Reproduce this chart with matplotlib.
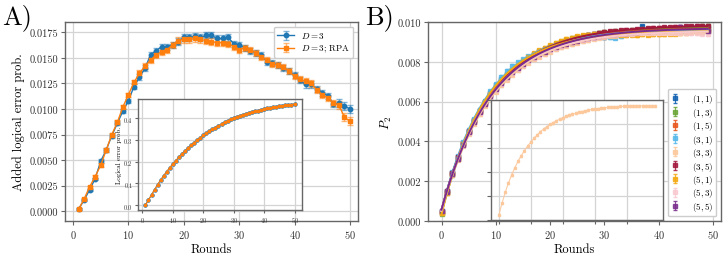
import numpy as np
import matplotlib
matplotlib.use("Agg")
import matplotlib.pyplot as plt

plt.rcParams.update({
    "font.family": "serif",
    "font.serif": ["cmr10", "DejaVu Serif"],
    "mathtext.fontset": "cm",
    "axes.formatter.use_mathtext": True,
    "axes.unicode_minus": False,
})

# ---------------- Panel A data ----------------
rounds_a = list(range(1, 51))
added_d3 = [0.0002, 0.0011, 0.0021, 0.0032, 0.0049, 0.0060, 0.0074, 0.0086, 0.0098, 0.0108,
            0.0122, 0.0131, 0.0140, 0.0153, 0.0157, 0.0161, 0.0161, 0.0163, 0.0166, 0.0170,
            0.0170, 0.0171, 0.0170, 0.0172, 0.0172, 0.0169, 0.0169, 0.0170, 0.0164, 0.0163,
            0.0160, 0.0157, 0.0155, 0.0153, 0.0146, 0.0145, 0.0143, 0.0140, 0.0137, 0.0133,
            0.0128, 0.0124, 0.0124, 0.0120, 0.0116, 0.0113, 0.0105, 0.0106, 0.0103, 0.0100]
added_rpa = [0.0002, 0.0012, 0.0024, 0.0034, 0.0045, 0.0060, 0.0075, 0.0087, 0.0102, 0.0114,
             0.0126, 0.0135, 0.0142, 0.0148, 0.0153, 0.0156, 0.0158, 0.0163, 0.0167, 0.0168,
             0.0168, 0.0169, 0.0168, 0.0167, 0.0166, 0.0165, 0.0165, 0.0164, 0.0161, 0.0158,
             0.0160, 0.0158, 0.0155, 0.0151, 0.0148, 0.0144, 0.0143, 0.0141, 0.0137, 0.0132,
             0.0129, 0.0127, 0.0125, 0.0119, 0.0114, 0.0111, 0.0106, 0.0104, 0.0092, 0.0088]
err_d3 = [0.0001, 0.0001, 0.0001, 0.0001, 0.0002, 0.0002, 0.0002, 0.0002, 0.0002, 0.0002,
          0.0002, 0.0003, 0.0003, 0.0003, 0.0003, 0.0003, 0.0003, 0.0003, 0.0003, 0.0003,
          0.0003, 0.0003, 0.0003, 0.0003, 0.0003, 0.0003, 0.0003, 0.0003, 0.0003, 0.0003,
          0.0003, 0.0003, 0.0003, 0.0003, 0.0003, 0.0003, 0.0003, 0.0003, 0.0003, 0.0003,
          0.0003, 0.0003, 0.0003, 0.0003, 0.0003, 0.0003, 0.0003, 0.0004, 0.0004, 0.0004]
err_rpa = [0.0001, 0.0001, 0.0001, 0.0001, 0.0002, 0.0002, 0.0002, 0.0002, 0.0002, 0.0002,
           0.0002, 0.0003, 0.0003, 0.0003, 0.0003, 0.0003, 0.0003, 0.0003, 0.0003, 0.0003,
           0.0003, 0.0003, 0.0003, 0.0003, 0.0003, 0.0003, 0.0003, 0.0003, 0.0003, 0.0003,
           0.0003, 0.0003, 0.0003, 0.0003, 0.0003, 0.0003, 0.0003, 0.0003, 0.0003, 0.0003,
           0.0003, 0.0003, 0.0003, 0.0003, 0.0003, 0.0003, 0.0003, 0.0004, 0.0004, 0.0004]
logical_d3 = [0.000, 0.023, 0.047, 0.071, 0.094, 0.115, 0.135, 0.154, 0.172, 0.189,
              0.205, 0.220, 0.235, 0.249, 0.262, 0.275, 0.287, 0.299, 0.310, 0.321,
              0.331, 0.340, 0.349, 0.357, 0.365, 0.373, 0.381, 0.388, 0.395, 0.401,
              0.406, 0.411, 0.416, 0.420, 0.424, 0.428, 0.432, 0.435, 0.439, 0.442,
              0.445, 0.448, 0.450, 0.453, 0.455, 0.457, 0.459, 0.461, 0.463, 0.465]
logical_rpa = [0.000, 0.023, 0.047, 0.071, 0.094, 0.115, 0.135, 0.154, 0.172, 0.189,
               0.205, 0.220, 0.235, 0.249, 0.262, 0.275, 0.287, 0.299, 0.310, 0.321,
               0.331, 0.340, 0.349, 0.357, 0.365, 0.373, 0.381, 0.388, 0.395, 0.401,
               0.406, 0.411, 0.416, 0.420, 0.424, 0.428, 0.432, 0.435, 0.439, 0.442,
               0.445, 0.448, 0.450, 0.453, 0.455, 0.457, 0.459, 0.461, 0.463, 0.465]
label_d3 = r"$D = 3$"
label_rpa = r"$D = 3$; RPA"

# ---------------- Panel B data ----------------
rounds_b = list(range(0, 50))
labels_b = [r"$(1,1)$", r"$(1,3)$", r"$(1,5)$", r"$(3,1)$", r"$(3,3)$",
            r"$(3,5)$", r"$(5,1)$", r"$(5,3)$", r"$(5,5)$"]
colors_b = ["#1060b0", "#6aa535", "#e8561d", "#55b8ea", "#fcc89b",
            "#a3173d", "#f4a90f", "#f8c9cf", "#7a2c8c"]
p2_11 = [0.00048,0.00150,0.00240,0.00322,0.00392,0.00455,0.00508,0.00556,0.00600,0.00645,0.00682,0.00712,0.00738,0.00760,0.00780,0.00798,0.00815,0.00832,0.00846,0.00858,0.00870,0.00880,0.00890,0.00898,0.00906,0.00912,0.00918,0.00922,0.00926,0.00930,0.00925,0.00928,0.00930,0.00935,0.00938,0.00942,0.00945,0.00978,0.00950,0.00948,0.00952,0.00955,0.00950,0.00953,0.00955,0.00952,0.00956,0.00954,0.00955,0.00953]
p2_13 = [0.00035,0.00140,0.00232,0.00312,0.00385,0.00446,0.00502,0.00550,0.00594,0.00633,0.00668,0.00700,0.00728,0.00754,0.00778,0.00800,0.00820,0.00838,0.00853,0.00866,0.00879,0.00890,0.00900,0.00910,0.00918,0.00925,0.00932,0.00936,0.00940,0.00945,0.00948,0.00950,0.00953,0.00955,0.00957,0.00959,0.00961,0.00963,0.00964,0.00966,0.00967,0.00968,0.00970,0.00971,0.00972,0.00974,0.00975,0.00976,0.00978,0.00980]
p2_15 = [0.00046,0.00148,0.00240,0.00320,0.00390,0.00452,0.00506,0.00554,0.00598,0.00638,0.00672,0.00704,0.00732,0.00758,0.00781,0.00801,0.00820,0.00836,0.00851,0.00864,0.00876,0.00887,0.00897,0.00906,0.00913,0.00920,0.00926,0.00931,0.00935,0.00939,0.00942,0.00945,0.00948,0.00950,0.00952,0.00954,0.00956,0.00957,0.00958,0.00959,0.00960,0.00961,0.00962,0.00963,0.00964,0.00964,0.00965,0.00965,0.00966,0.00966]
p2_31 = [0.00050,0.00152,0.00245,0.00328,0.00395,0.00460,0.00512,0.00560,0.00605,0.00652,0.00688,0.00725,0.00755,0.00780,0.00798,0.00812,0.00828,0.00842,0.00856,0.00866,0.00876,0.00886,0.00894,0.00902,0.00908,0.00914,0.00920,0.00926,0.00930,0.00932,0.00928,0.00925,0.00922,0.00930,0.00938,0.00944,0.00948,0.00952,0.00955,0.00958,0.00960,0.00962,0.00963,0.00964,0.00965,0.00966,0.00967,0.00967,0.00968,0.00968]
p2_33 = [0.00042,0.00140,0.00230,0.00308,0.00376,0.00436,0.00490,0.00536,0.00578,0.00616,0.00650,0.00682,0.00710,0.00736,0.00758,0.00778,0.00796,0.00812,0.00826,0.00840,0.00852,0.00863,0.00873,0.00882,0.00890,0.00897,0.00904,0.00910,0.00916,0.00921,0.00925,0.00929,0.00932,0.00935,0.00938,0.00940,0.00942,0.00944,0.00946,0.00947,0.00948,0.00949,0.00950,0.00950,0.00951,0.00951,0.00952,0.00950,0.00951,0.00950]
p2_35 = [0.00045,0.00150,0.00242,0.00320,0.00388,0.00450,0.00505,0.00552,0.00596,0.00634,0.00668,0.00700,0.00728,0.00754,0.00776,0.00797,0.00816,0.00834,0.00850,0.00864,0.00877,0.00889,0.00900,0.00909,0.00917,0.00924,0.00930,0.00936,0.00941,0.00946,0.00950,0.00953,0.00956,0.00958,0.00960,0.00962,0.00964,0.00966,0.00968,0.00970,0.00971,0.00973,0.00974,0.00975,0.00977,0.00978,0.00979,0.00980,0.00981,0.00982]
p2_51 = [0.00042,0.00142,0.00234,0.00314,0.00386,0.00448,0.00504,0.00552,0.00597,0.00638,0.00674,0.00706,0.00734,0.00760,0.00784,0.00806,0.00826,0.00843,0.00858,0.00872,0.00884,0.00896,0.00906,0.00915,0.00922,0.00928,0.00933,0.00936,0.00938,0.00936,0.00934,0.00935,0.00933,0.00936,0.00935,0.00937,0.00934,0.00938,0.00936,0.00939,0.00938,0.00940,0.00942,0.00941,0.00944,0.00946,0.00948,0.00950,0.00952,0.00955]
p2_53 = [0.00050,0.00146,0.00236,0.00314,0.00382,0.00442,0.00496,0.00544,0.00586,0.00625,0.00660,0.00691,0.00719,0.00744,0.00766,0.00786,0.00804,0.00820,0.00835,0.00848,0.00860,0.00871,0.00881,0.00890,0.00898,0.00905,0.00911,0.00917,0.00922,0.00926,0.00930,0.00933,0.00936,0.00938,0.00940,0.00942,0.00943,0.00944,0.00945,0.00946,0.00946,0.00947,0.00946,0.00945,0.00946,0.00945,0.00944,0.00943,0.00942,0.00940]
p2_55 = [0.00048,0.00148,0.00236,0.00314,0.00384,0.00446,0.00500,0.00548,0.00590,0.00628,0.00662,0.00694,0.00722,0.00748,0.00770,0.00790,0.00808,0.00824,0.00838,0.00851,0.00863,0.00874,0.00884,0.00892,0.00900,0.00907,0.00914,0.00920,0.00925,0.00930,0.00934,0.00938,0.00941,0.00944,0.00947,0.00950,0.00952,0.00954,0.00956,0.00958,0.00960,0.00962,0.00964,0.00966,0.00975,0.00968,0.00970,0.00972,0.00968,0.00955]
p2_err = [0.00004,0.00005,0.00005,0.00006,0.00006,0.00006,0.00007,0.00007,0.00007,0.00007,
          0.00008,0.00008,0.00008,0.00008,0.00008,0.00008,0.00008,0.00008,0.00008,0.00008,
          0.00008,0.00008,0.00008,0.00008,0.00008,0.00008,0.00008,0.00008,0.00008,0.00008,
          0.00008,0.00008,0.00008,0.00008,0.00008,0.00008,0.00008,0.00008,0.00008,0.00008,
          0.00008,0.00008,0.00008,0.00008,0.00008,0.00008,0.00008,0.00008,0.00008,0.00008]
series_b = [p2_11, p2_13, p2_15, p2_31, p2_33, p2_35, p2_51, p2_53, p2_55]

C_BLUE = "#1f77b4"
C_ORANGE = "#ff7f0e"
GRID = "#d4d4d4"
SPINE = "#666666"


def style_axes(ax, lab=7.5):
    ax.grid(True, color=GRID, lw=0.9)
    ax.set_axisbelow(True)
    for s in ax.spines.values():
        s.set_color(SPINE)
        s.set_linewidth(1.0)
    ax.tick_params(direction="out", length=3, width=0.8, color=SPINE, pad=2,
                   labelsize=lab, labelcolor="#333333")


def sat_fit(x, y):
    x = np.asarray(x, float)
    y = np.asarray(y, float)
    best = None
    for tau in np.linspace(3, 30, 541):
        e = np.exp(-x / tau)
        A = np.vstack([np.ones_like(x), -e]).T
        coef = np.linalg.lstsq(A, y, rcond=None)[0]
        r = np.sum((A @ coef - y) ** 2)
        if best is None or r < best[0]:
            best = (r, tau, coef)
    _, tau, coef = best
    xf = np.linspace(x.min(), x.max(), 200)
    return xf, coef[0] - coef[1] * np.exp(-xf / tau)


fig = plt.figure(figsize=(7.27, 2.55), dpi=100)

# ---------------- Panel A ----------------
axA = fig.add_axes([0.0894, 0.1294, 0.403, 0.780])
style_axes(axA)
axA.errorbar(rounds_a, added_d3, yerr=err_d3, color=C_BLUE, marker="o", ms=3.2,
             lw=1.0, elinewidth=1.0, capsize=2, ecolor=(0.12, 0.47, 0.71, 0.55),
             label=label_d3, zorder=3)
axA.errorbar(rounds_a, added_rpa, yerr=err_rpa, color=C_ORANGE, marker="s", ms=3.2,
             lw=1.0, elinewidth=1.0, capsize=2, ecolor=(1.0, 0.5, 0.05, 0.55),
             label=label_rpa, zorder=3)
axA.set_xlim(-1.45, 51.45)
axA.set_ylim(-0.00095, 0.0185)
axA.set_xticks([0, 10, 20, 30, 40, 50])
axA.set_yticks([0.0, 0.0025, 0.005, 0.0075, 0.01, 0.0125, 0.015, 0.0175])
axA.set_yticklabels(["0.0000", "0.0025", "0.0050", "0.0075", "0.0100",
                     "0.0125", "0.0150", "0.0175"])
axA.set_xlabel("Rounds", fontsize=9, labelpad=2)
axA.set_ylabel("Added logical error prob.", fontsize=9, labelpad=3)
axA.legend(loc="upper right", fontsize=6.5, framealpha=1, edgecolor="#cccccc",
           handlelength=1.8, borderpad=0.4, labelspacing=0.3)

axAi = fig.add_axes([0.1898, 0.1725, 0.2256, 0.435])
style_axes(axAi, lab=4.5)
axAi.tick_params(length=2, pad=1.5)
axAi.errorbar(rounds_a, logical_d3, yerr=[0.003] * 50, color=C_BLUE, marker="o", ms=2.2,
              lw=0.8, elinewidth=0.6, capsize=1, ecolor=(0.12, 0.47, 0.71, 0.5))
axAi.errorbar(rounds_a, logical_rpa, yerr=[0.003] * 50, color=C_ORANGE, marker="s", ms=1.8,
              lw=0.8, elinewidth=0.6, capsize=1, ecolor=(1.0, 0.5, 0.05, 0.5))
axAi.set_xlim(-1.45, 52.45)
axAi.set_ylim(-0.023, 0.488)
axAi.set_xticks([0, 10, 20, 30, 40, 50])
axAi.set_yticks([0.0, 0.1, 0.2, 0.3, 0.4])
axAi.set_ylabel("Logical error prob.", fontsize=5, labelpad=1)

fig.text(0.003, 0.985, "A)", fontsize=19, va="top", ha="left")

# ---------------- Panel B ----------------
axB = fig.add_axes([0.589, 0.1294, 0.4026, 0.780])
style_axes(axB)
handles = []
for vals, col, lab in zip(series_b, colors_b, labels_b):
    h = axB.errorbar(rounds_b, vals, yerr=p2_err, color=col, marker="s", ms=3.2,
                     ls="none", elinewidth=0.8, capsize=1.5, alpha=0.85,
                     label=lab, zorder=2)
    handles.append(h)
for vals, col in zip(series_b, colors_b):
    xf, yf = sat_fit(rounds_b, vals)
    axB.plot(xf, yf, color=col, lw=1.4, zorder=3)
axB.set_xlim(-2.45, 51.45)
axB.set_ylim(0.0, 0.010)
axB.set_xticks([0, 10, 20, 30, 40, 50])
axB.set_yticks([0.0, 0.002, 0.004, 0.006, 0.008, 0.010])
axB.set_yticklabels(["0.000", "0.002", "0.004", "0.006", "0.008", "0.010"])
axB.set_xlabel("Rounds", fontsize=9, labelpad=2)
axB.set_ylabel(r"$P_2$", fontsize=9, labelpad=3)

axBi = fig.add_axes([0.6754, 0.1333, 0.237, 0.4706])
style_axes(axBi)
axBi.errorbar(rounds_b, p2_33, yerr=p2_err, color=colors_b[4], marker="s", ms=1.8,
              lw=0.8, elinewidth=0.6, capsize=1, alpha=0.9)
axBi.set_xlim(-2.45, 51.45)
axBi.set_ylim(0.0, 0.010)
axBi.set_xticks([0, 10, 20, 30, 40])
axBi.set_yticks([0.0, 0.002, 0.004, 0.006, 0.008, 0.010])
axBi.tick_params(labelleft=False, labelbottom=False)

axB.legend(handles=handles, labels=labels_b, loc="lower right", fontsize=6.5,
           framealpha=1, edgecolor="#cccccc", handlelength=0.8, handletextpad=1.4,
           labelspacing=0.05, borderpad=0.4, bbox_to_anchor=(1.0, 0.0))

fig.text(0.502, 0.985, "B)", fontsize=19, va="top", ha="left")

fig.savefig("out.png", dpi=100)
